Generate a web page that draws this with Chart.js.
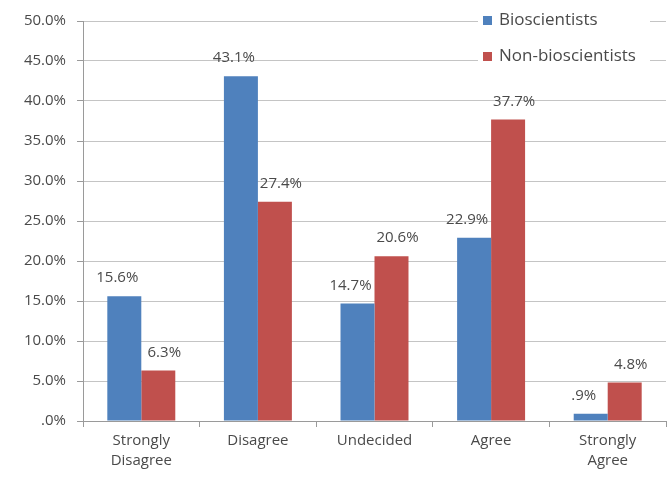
<!DOCTYPE html>
<html>
<head>
<meta charset="utf-8">
<script src="https://cdn.jsdelivr.net/npm/chart.js@4/dist/chart.umd.min.js"></script>
<style>
  html, body { margin: 0; padding: 0; background: #ffffff; }
  #wrap { width: 668px; height: 480px; position: relative; }
</style>
</head>
<body>
<div id="wrap"><canvas id="c" width="668" height="480"></canvas></div>
<script>
// Survey responses by group (percent of respondents)
const categories = [["Strongly", "Disagree"], "Disagree", "Undecided", "Agree", ["Strongly", "Agree"]];
const seriesNames = ["Bioscientists", "Non-bioscientists"];
const bioscientists = [15.6, 43.1, 14.7, 22.9, 0.9];
const nonBioscientists = [6.3, 27.4, 20.6, 37.7, 4.8];
const yTicks = [0, 5, 10, 15, 20, 25, 30, 35, 40, 45, 50];

const colors = ["#4F81BD", "#C0504D"];
const textColor = "#4a4a4a";
const fontFamily = "'Open Sans', 'Liberation Sans', sans-serif";
// horizontal nudge of the value labels per series (blue leans left, red leans right)
const labelNudge = [-7, 6];

// Percent format with one decimal and no leading zero, e.g. ".9%" and "15.6%"
function pct(v) {
  let s = v.toFixed(1);
  if (s.startsWith("0.")) s = s.slice(1);
  return s + "%";
}

// Value labels above each bar
const valueLabels = {
  id: "valueLabels",
  afterDatasetsDraw(chart) {
    const ctx = chart.ctx;
    ctx.save();
    ctx.font = "15px " + fontFamily;
    ctx.fillStyle = textColor;
    ctx.textAlign = "center";
    ctx.textBaseline = "middle";
    chart.data.datasets.forEach((ds, i) => {
      chart.getDatasetMeta(i).data.forEach((bar, j) => {
        ctx.fillText(pct(ds.data[j]), bar.x + labelNudge[i], bar.y - 18);
      });
    });
    ctx.restore();
  }
};

// Legend box drawn inside the plot, top right
const insideLegend = {
  id: "insideLegend",
  afterDraw(chart) {
    const ctx = chart.ctx;
    const area = chart.chartArea;
    const left = area.right - 188;
    ctx.save();
    ctx.fillStyle = "#ffffff";
    ctx.fillRect(left, area.top - 12, 172, 60);
    ctx.font = "17px " + fontFamily;
    ctx.textBaseline = "middle";
    ctx.textAlign = "left";
    const rows = [area.top - 1, area.top + 35];
    chart.data.datasets.forEach((ds, i) => {
      const y = rows[i];
      ctx.fillStyle = ds.backgroundColor;
      ctx.fillRect(left + 5, y - 4, 9, 9);
      ctx.fillStyle = textColor;
      ctx.fillText(ds.label, left + 21, y);
    });
    ctx.restore();
  }
};

const bgPlugin = {
  id: "bg",
  beforeDraw(chart) {
    const ctx = chart.ctx;
    ctx.save();
    ctx.fillStyle = "#ffffff";
    ctx.fillRect(0, 0, chart.width, chart.height);
    ctx.restore();
  }
};

new Chart(document.getElementById("c"), {
  type: "bar",
  data: {
    labels: categories,
    datasets: [
      { label: seriesNames[0], data: bioscientists, backgroundColor: colors[0] },
      { label: seriesNames[1], data: nonBioscientists, backgroundColor: colors[1] }
    ]
  },
  options: {
    responsive: false,
    animation: false,
    devicePixelRatio: 1,
    layout: { padding: { top: 21, right: 2, left: 0, bottom: 0 } },
    datasets: { bar: { categoryPercentage: 0.583, barPercentage: 1.0 } },
    plugins: {
      legend: { display: false },
      tooltip: { enabled: false },
      title: { display: false }
    },
    scales: {
      x: {
        offset: true,
        grid: {
          offset: true,
          drawOnChartArea: false,
          drawTicks: true,
          tickLength: 6,
          tickColor: "#9a9a9a"
        },
        border: { display: true, color: "#9a9a9a", width: 1 },
        ticks: {
          color: textColor,
          font: { family: fontFamily, size: 15, lineHeight: 1.333 },
          padding: 4,
          maxRotation: 0,
          autoSkip: false
        },
        afterFit(scale) { scale.height = 59; }
      },
      y: {
        min: 0,
        max: 50,
        afterBuildTicks(scale) { scale.ticks = yTicks.map(v => ({ value: v })); },
        grid: {
          color: "#c4c4c4",
          drawTicks: true,
          tickLength: 6,
          tickColor: "#9a9a9a"
        },
        border: { display: true, color: "#9a9a9a", width: 1 },
        ticks: {
          color: textColor,
          font: { family: fontFamily, size: 15 },
          padding: 11,
          callback: v => pct(v)
        },
        afterFit(scale) { scale.width = 83; }
      }
    }
  },
  plugins: [bgPlugin, valueLabels, insideLegend]
});
</script>
</body>
</html>
